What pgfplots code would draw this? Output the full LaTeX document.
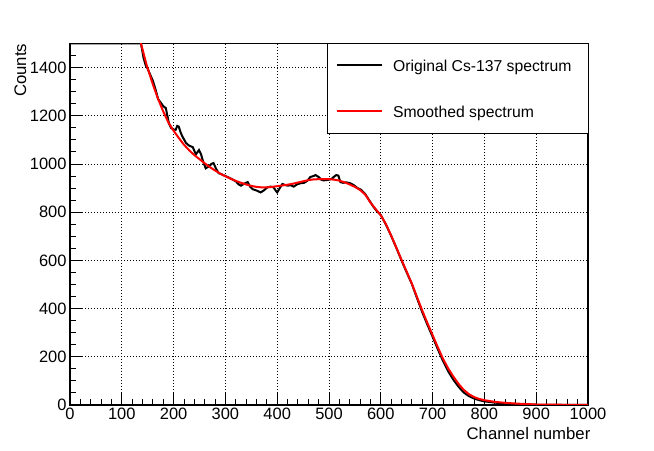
\documentclass[border=0pt]{standalone}
\usepackage{pgfplots}
\pgfplotsset{compat=1.18}
\usepackage{fontspec}
\setmainfont{Liberation Sans}
\begin{document}
\begin{tikzpicture}[x=1bp,y=1bp]
\path[use as bounding box] (0,0) rectangle (654,451);
\begin{axis}[
  at={(70bp,46bp)}, anchor=south west,
  scale only axis, width=518bp, height=361.5bp,
  xmin=0, xmax=1000, ymin=0, ymax=1500,
  xtick={0,100,...,1000}, ytick={0,200,...,1400},
  minor xtick={20,40,...,980}, minor ytick={50,100,...,1450},
  tick align=inside, xtick pos=bottom, ytick pos=left,
  major tick length=12bp, minor tick length=6bp,
  every tick/.style={black, line width=0.9bp},
  axis line style={line width=1.2bp},
  grid=major,
  major grid style={black, line width=0.7bp, dash pattern=on 1bp off 2bp},
  scaled ticks=false,
  tick label style={font=\fontsize{16.5}{18}\selectfont},
  /pgf/number format/assume math mode=true,
  /pgf/number format/1000 sep={},
  ylabel={Counts},
  ylabel style={at={(axis description cs:-0.0956,1)}, anchor=east, inner sep=0pt, font=\fontsize{16.8}{18}\selectfont},
  xlabel={Channel number},
  xlabel style={at={(axis description cs:1.005,0)}, anchor=north east, inner sep=0pt, yshift=-22bp, font=\fontsize{16.8}{18}\selectfont},
  legend cell align=left,
  legend image code/.code={\draw[#1] (0bp,0bp) -- (45.4bp,0bp);},
  legend style={at={(axis description cs:1,1)}, anchor=north east,
    draw=black, fill=white,
    inner xsep=8.3bp, inner ysep=11.3bp, row sep=25.1bp, column sep=10bp,
    font=\fontsize{15.8}{18}\selectfont,
    nodes={inner sep=0pt, text height=16.9bp, text depth=4bp}},
]
\addlegendimage{black, line width=2bp}
\addlegendentry{Original Cs-137 spectrum\rule{8bp}{0pt}}
\addlegendimage{red, line width=2bp}
\addlegendentry{Smoothed spectrum}
\addplot[black, line width=2bp, forget plot] coordinates {
(0,1500)(128,1500)(137,1500)(142,1440)(146,1410)(150,1395)(155,1370)(160,1345)(165,1310)
(170,1270)(175,1255)(180,1240)(185,1232)(188,1200)(191,1168)(195,1150)
(200,1143)(204,1142)(207,1158)(210,1155)(214,1128)(218,1110)(224,1087)
(230,1076)(237,1070)(243,1040)(249,1058)(253,1040)(257,1010)(262,982)
(268,990)(273,1000)(277,1004)(282,980)(287,962)(295,955)(304,946)
(312,938)(320,928)(326,915)(330,910)(336,918)(343,925)(348,905)(353,895)
(360,890)(368,882)(374,890)(381,903)(387,906)(393,903)(397,890)(400,882)
(405,900)(410,917)(415,913)(420,910)(426,912)(432,906)(438,915)(445,920)
(452,922)(458,930)(464,946)(470,950)(474,954)(480,946)(485,935)(489,932)
(495,933)(500,935)(505,938)(510,948)(514,954)(518,952)(522,925)(527,922)
(533,924)(541,920)(548,912)(555,900)(562,893)(570,875)(578,848)(585,825)
(592,805)(600,788)(610,748)(620,702)(630,652)(640,600)(650,550)(660,502)
(670,443)(680,385)(690,333)(700,283)(710,232)(720,183)(730,140)(740,105)
(750,76)(760,52)(770,37)(780,27)(790,20)(800,15)(820,10)(840,6)(860,4)
(880,2)(900,1)(950,0)(1000,0)
};
\addplot[red, line width=2bp, forget plot] coordinates {
(125,1620)(137,1500)(148,1410)(160,1330)(170,1270)(180,1218)(190,1172)
(200,1138)(210,1108)(220,1080)(230,1057)(240,1037)(250,1020)(260,1003)
(270,987)(280,973)(290,960)(300,949)(310,939)(320,930)(330,922)(340,915)
(350,909)(360,905)(370,903)(380,903)(390,905)(400,908)(410,911)(420,914)
(430,918)(440,923)(450,928)(460,933)(470,936)(480,937)(490,937)(500,937)
(510,935)(520,931)(530,924)(540,915)(550,905)(560,892)(570,873)(580,840)
(590,813)(600,787)(610,750)(620,703)(630,653)(640,602)(650,553)(660,503)
(670,447)(680,392)(690,340)(700,290)(710,240)(720,192)(730,152)(740,118)
(750,88)(760,63)(770,45)(780,33)(790,25)(800,20)(820,13)(840,9)(860,6)
(880,4)(900,2)(950,1)(1000,0)
};
\end{axis}
\end{tikzpicture}
\end{document}
